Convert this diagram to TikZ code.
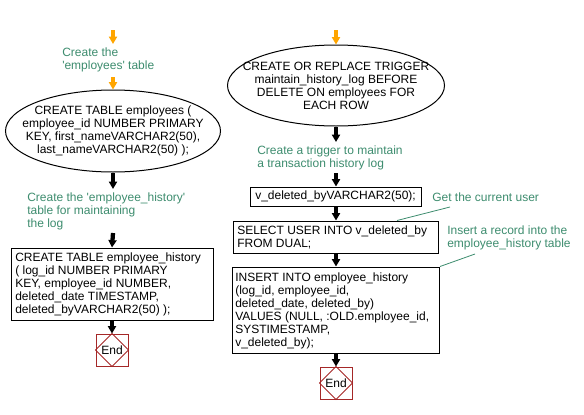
\documentclass[tikz,border=0pt]{standalone}
\usepackage{fontspec}
\setmainfont{Liberation Sans}
\usetikzlibrary{arrows.meta,shapes.geometric}
\definecolor{cgreen}{RGB}{61,140,110}
\definecolor{corange}{RGB}{255,165,0}
\definecolor{cred}{RGB}{165,40,40}
\begin{document}
\begin{tikzpicture}[x=0.75pt,y=-0.75pt,
  every node/.style={font=\fontsize{9}{9.75}\selectfont},
  txt/.style={align=left,inner sep=0pt,anchor=west},
  cmt/.style={txt,text=cgreen},
  boxn/.style={draw,line width=0.75pt,inner sep=0pt},
  ell/.style={draw,ellipse,line width=0.75pt,inner sep=0pt},
  flow/.style={line width=3.2pt,-{Triangle[width=6pt,length=5.5pt]}},
  endbox/.style={draw=cred,line width=0.75pt,minimum width=24pt,minimum height=24pt,inner sep=0pt},
  diam/.style={draw=cred,line width=0.6pt},
  lead/.style={draw=cgreen,line width=0.6pt}]
\useasboundingbox (0,0) rectangle (584,414);
% ---------- left column ----------
\coordinate (s1) at (113,30);
\coordinate (s1e) at (113,44);
\coordinate (s1f) at (113,77);
\node[cmt] (c1) at (62,60) {Create the\\\textquotesingle employees\textquotesingle\ table};
\node[ell,minimum width=161.25pt,minimum height=61.5pt] (e1) at (113,131) {};
\node[align=center,inner sep=0pt] (e1t) at (e1) {CREATE TABLE employees (\\employee\_id NUMBER PRIMARY\\KEY, first\_nameVARCHAR2(50),\\last\_nameVARCHAR2(50) );};
\coordinate (e1e) at (113,189);
\coordinate (e1f) at (113,233);
\node[cmt] (c2) at (27,211) {Create the \textquotesingle employee\_history\textquotesingle\\table for maintaining\\the log};
\node[boxn,minimum width=151.5pt,minimum height=54pt] (b1) at (112,284) {};
\node[txt] (b1t) at (15,284.5) {CREATE TABLE employee\_history\\( log\_id NUMBER PRIMARY\\KEY, employee\_id NUMBER,\\deleted\_date TIMESTAMP,\\deleted\_byVARCHAR2(50) );};
\node[endbox] (end1) at (112,350) {End};
\draw[diam] (end1.north) -- (end1.east) -- (end1.south) -- (end1.west) -- cycle;
\draw[flow,corange] (s1) -- (s1e);
\draw[flow,corange] (s1f) -- (e1.north);
\draw[flow] (e1.south) -- (e1e);
\draw[flow] (e1f) -- (b1.north);
\draw[flow] (b1.south) -- (end1.north);
% ---------- right column ----------
\coordinate (s2) at (336,30);
\node[ell,minimum width=162.75pt,minimum height=60.75pt] (e2) at (336,85.5) {};
\node[align=center,inner sep=0pt] (e2t) at (e2) {CREATE OR REPLACE TRIGGER\\maintain\_history\_log BEFORE\\DELETE ON employees FOR\\EACH ROW};
\coordinate (e2e) at (336,142);
\coordinate (e2f) at (336,173);
\node[cmt] (c3) at (257,157.5) {Create a trigger to maintain\\a transaction history log};
\node[boxn,minimum width=128.25pt,minimum height=14.25pt] (b2) at (336,196.5) {};
\node[txt] (b2t) at (255,196.5) {v\_deleted\_byVARCHAR2(50);};
\node[cmt] (c4) at (432,197) {Get the current user};
\node[boxn,minimum width=153.75pt,minimum height=24pt] (b3) at (336,237) {};
\node[txt] (b3t) at (237,237.5) {SELECT USER INTO v\_deleted\_by\\FROM DUAL;};
\node[cmt] (c5) at (447,237.5) {Insert a record into the\\employee\_history table};
\node[boxn,minimum width=155.25pt,minimum height=64.5pt] (b4) at (336,310) {};
\node[txt] (b4t) at (235,310.5) {INSERT INTO employee\_history\\(log\_id, employee\_id,\\deleted\_date, deleted\_by)\\VALUES (NULL, :OLD.employee\_id,\\SYSTIMESTAMP,\\v\_deleted\_by);};
\node[endbox] (end2) at (336,383) {End};
\draw[diam] (end2.north) -- (end2.east) -- (end2.south) -- (end2.west) -- cycle;
\draw[flow,corange] (s2) -- (e2.north);
\draw[flow] (e2.south) -- (e2e);
\draw[flow] (e2f) -- (b2.north);
\draw[flow] (b2.south) -- (b3.north);
\draw[flow] (b3.south) -- (b4.north);
\draw[flow] (b4.south) -- (end2.north);
% leader lines
\coordinate (g1) at (450,207);
\coordinate (g2) at (475,254);
\draw[lead] (g1) -- ([xshift=45.75pt]b3.north);
\draw[lead] (g2) -- (b4.north east);
\end{tikzpicture}
\end{document}
